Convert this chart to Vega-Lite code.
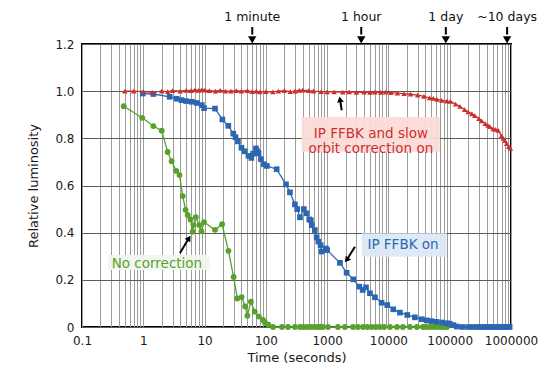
{
  "$schema": "https://vega.github.io/schema/vega-lite/v6.json",
  "width": 429,
  "height": 283,
  "autosize": {"type": "none"},
  "padding": {"left": 82, "top": 44, "right": 33, "bottom": 45},
  "background": "white",
  "config": {
    "font": "DejaVu Sans",
    "view": {"stroke": "black", "strokeWidth": 2},
    "axis": {"ticks": false, "domain": false, "labelColor": "#1a1a1a", "titleColor": "#1a1a1a", "labelFontSize": 12, "titleFontSize": 13, "titleFontWeight": "normal"}
  },
  "datasets": {
    "runs": [
      {"series": "No correction", "time": 0.48, "lum": 0.936},
      {"series": "No correction", "time": 0.96, "lum": 0.887},
      {"series": "No correction", "time": 1.46, "lum": 0.852},
      {"series": "No correction", "time": 2.0, "lum": 0.832},
      {"series": "No correction", "time": 2.5, "lum": 0.742},
      {"series": "No correction", "time": 2.9, "lum": 0.703},
      {"series": "No correction", "time": 3.45, "lum": 0.662},
      {"series": "No correction", "time": 3.9, "lum": 0.644},
      {"series": "No correction", "time": 4.4, "lum": 0.555},
      {"series": "No correction", "time": 4.9, "lum": 0.497},
      {"series": "No correction", "time": 5.3, "lum": 0.475},
      {"series": "No correction", "time": 5.9, "lum": 0.456},
      {"series": "No correction", "time": 6.4, "lum": 0.404},
      {"series": "No correction", "time": 6.6, "lum": 0.432},
      {"series": "No correction", "time": 7.2, "lum": 0.466},
      {"series": "No correction", "time": 8.2, "lum": 0.432},
      {"series": "No correction", "time": 8.9, "lum": 0.406},
      {"series": "No correction", "time": 9.8, "lum": 0.445},
      {"series": "No correction", "time": 14.8, "lum": 0.412},
      {"series": "No correction", "time": 19.3, "lum": 0.436},
      {"series": "No correction", "time": 24.5, "lum": 0.323},
      {"series": "No correction", "time": 29.8, "lum": 0.212},
      {"series": "No correction", "time": 34.2, "lum": 0.121},
      {"series": "No correction", "time": 40.3, "lum": 0.127},
      {"series": "No correction", "time": 46, "lum": 0.087},
      {"series": "No correction", "time": 50, "lum": 0.048},
      {"series": "No correction", "time": 57, "lum": 0.107},
      {"series": "No correction", "time": 66, "lum": 0.065},
      {"series": "No correction", "time": 77, "lum": 0.044},
      {"series": "No correction", "time": 90, "lum": 0.03},
      {"series": "No correction", "time": 97, "lum": 0.018},
      {"series": "No correction", "time": 110, "lum": 0.01},
      {"series": "No correction", "time": 131, "lum": 0},
      {"series": "No correction", "time": 183, "lum": 0},
      {"series": "No correction", "time": 230, "lum": 0},
      {"series": "No correction", "time": 298, "lum": 0},
      {"series": "No correction", "time": 360, "lum": 0},
      {"series": "No correction", "time": 410, "lum": 0},
      {"series": "No correction", "time": 470, "lum": 0},
      {"series": "No correction", "time": 540, "lum": 0},
      {"series": "No correction", "time": 620, "lum": 0},
      {"series": "No correction", "time": 700, "lum": 0},
      {"series": "No correction", "time": 780, "lum": 0},
      {"series": "No correction", "time": 850, "lum": 0},
      {"series": "No correction", "time": 1030, "lum": 0},
      {"series": "No correction", "time": 1500, "lum": 0},
      {"series": "No correction", "time": 1950, "lum": 0},
      {"series": "No correction", "time": 2640, "lum": 0},
      {"series": "No correction", "time": 3170, "lum": 0},
      {"series": "No correction", "time": 3840, "lum": 0},
      {"series": "No correction", "time": 4500, "lum": 0},
      {"series": "No correction", "time": 5300, "lum": 0},
      {"series": "No correction", "time": 6200, "lum": 0},
      {"series": "No correction", "time": 7200, "lum": 0},
      {"series": "No correction", "time": 8500, "lum": 0},
      {"series": "No correction", "time": 10600, "lum": 0},
      {"series": "No correction", "time": 13800, "lum": 0},
      {"series": "No correction", "time": 17200, "lum": 0},
      {"series": "No correction", "time": 22400, "lum": 0},
      {"series": "No correction", "time": 29200, "lum": 0},
      {"series": "No correction", "time": 36600, "lum": 0},
      {"series": "No correction", "time": 42000, "lum": 0},
      {"series": "No correction", "time": 48000, "lum": 0},
      {"series": "No correction", "time": 55000, "lum": 0},
      {"series": "No correction", "time": 63000, "lum": 0},
      {"series": "No correction", "time": 72000, "lum": 0},
      {"series": "No correction", "time": 80000, "lum": 0},
      {"series": "No correction", "time": 90000, "lum": 0},

      {"series": "IP FFBK on", "time": 0.98, "lum": 0.99},
      {"series": "IP FFBK on", "time": 1.46, "lum": 0.988},
      {"series": "IP FFBK on", "time": 2.7, "lum": 0.976},
      {"series": "IP FFBK on", "time": 3.5, "lum": 0.968},
      {"series": "IP FFBK on", "time": 4.2, "lum": 0.962},
      {"series": "IP FFBK on", "time": 5.0, "lum": 0.958},
      {"series": "IP FFBK on", "time": 6.2, "lum": 0.955},
      {"series": "IP FFBK on", "time": 7.5, "lum": 0.95},
      {"series": "IP FFBK on", "time": 9.0, "lum": 0.941},
      {"series": "IP FFBK on", "time": 9.8, "lum": 0.928},
      {"series": "IP FFBK on", "time": 14.8, "lum": 0.926},
      {"series": "IP FFBK on", "time": 19.5, "lum": 0.88},
      {"series": "IP FFBK on", "time": 24.4, "lum": 0.853},
      {"series": "IP FFBK on", "time": 29.4, "lum": 0.82},
      {"series": "IP FFBK on", "time": 32, "lum": 0.805},
      {"series": "IP FFBK on", "time": 35, "lum": 0.787},
      {"series": "IP FFBK on", "time": 40, "lum": 0.76},
      {"series": "IP FFBK on", "time": 45, "lum": 0.745},
      {"series": "IP FFBK on", "time": 52, "lum": 0.726},
      {"series": "IP FFBK on", "time": 58, "lum": 0.717},
      {"series": "IP FFBK on", "time": 62, "lum": 0.735},
      {"series": "IP FFBK on", "time": 69, "lum": 0.757},
      {"series": "IP FFBK on", "time": 72, "lum": 0.745},
      {"series": "IP FFBK on", "time": 76, "lum": 0.736},
      {"series": "IP FFBK on", "time": 83, "lum": 0.712},
      {"series": "IP FFBK on", "time": 93, "lum": 0.69},
      {"series": "IP FFBK on", "time": 104, "lum": 0.683},
      {"series": "IP FFBK on", "time": 150, "lum": 0.669},
      {"series": "IP FFBK on", "time": 213, "lum": 0.605},
      {"series": "IP FFBK on", "time": 247, "lum": 0.571},
      {"series": "IP FFBK on", "time": 298, "lum": 0.52},
      {"series": "IP FFBK on", "time": 325, "lum": 0.5},
      {"series": "IP FFBK on", "time": 360, "lum": 0.465},
      {"series": "IP FFBK on", "time": 417, "lum": 0.5},
      {"series": "IP FFBK on", "time": 462, "lum": 0.482},
      {"series": "IP FFBK on", "time": 510, "lum": 0.456},
      {"series": "IP FFBK on", "time": 540, "lum": 0.453},
      {"series": "IP FFBK on", "time": 560, "lum": 0.432},
      {"series": "IP FFBK on", "time": 630, "lum": 0.411},
      {"series": "IP FFBK on", "time": 675, "lum": 0.38},
      {"series": "IP FFBK on", "time": 720, "lum": 0.362},
      {"series": "IP FFBK on", "time": 783, "lum": 0.347},
      {"series": "IP FFBK on", "time": 810, "lum": 0.32},
      {"series": "IP FFBK on", "time": 955, "lum": 0.333},
      {"series": "IP FFBK on", "time": 1000, "lum": 0.326},
      {"series": "IP FFBK on", "time": 1620, "lum": 0.272},
      {"series": "IP FFBK on", "time": 2080, "lum": 0.23},
      {"series": "IP FFBK on", "time": 2670, "lum": 0.202},
      {"series": "IP FFBK on", "time": 3340, "lum": 0.171},
      {"series": "IP FFBK on", "time": 3800, "lum": 0.157},
      {"series": "IP FFBK on", "time": 4300, "lum": 0.168},
      {"series": "IP FFBK on", "time": 4990, "lum": 0.143},
      {"series": "IP FFBK on", "time": 6030, "lum": 0.126},
      {"series": "IP FFBK on", "time": 7740, "lum": 0.103},
      {"series": "IP FFBK on", "time": 9550, "lum": 0.093},
      {"series": "IP FFBK on", "time": 12000, "lum": 0.075},
      {"series": "IP FFBK on", "time": 15400, "lum": 0.061},
      {"series": "IP FFBK on", "time": 20300, "lum": 0.051},
      {"series": "IP FFBK on", "time": 27000, "lum": 0.041},
      {"series": "IP FFBK on", "time": 35000, "lum": 0.033},
      {"series": "IP FFBK on", "time": 42000, "lum": 0.028},
      {"series": "IP FFBK on", "time": 50000, "lum": 0.025},
      {"series": "IP FFBK on", "time": 61000, "lum": 0.022},
      {"series": "IP FFBK on", "time": 75000, "lum": 0.019},
      {"series": "IP FFBK on", "time": 89000, "lum": 0.016},
      {"series": "IP FFBK on", "time": 100000, "lum": 0.014},
      {"series": "IP FFBK on", "time": 115000, "lum": 0.008},
      {"series": "IP FFBK on", "time": 130000, "lum": 0.002},
      {"series": "IP FFBK on", "time": 160000, "lum": 0},
      {"series": "IP FFBK on", "time": 200000, "lum": 0},
      {"series": "IP FFBK on", "time": 240000, "lum": 0},
      {"series": "IP FFBK on", "time": 280000, "lum": 0},
      {"series": "IP FFBK on", "time": 320000, "lum": 0},
      {"series": "IP FFBK on", "time": 360000, "lum": 0},
      {"series": "IP FFBK on", "time": 400000, "lum": 0},
      {"series": "IP FFBK on", "time": 450000, "lum": 0},
      {"series": "IP FFBK on", "time": 500000, "lum": 0},
      {"series": "IP FFBK on", "time": 560000, "lum": 0},
      {"series": "IP FFBK on", "time": 630000, "lum": 0},
      {"series": "IP FFBK on", "time": 700000, "lum": 0},
      {"series": "IP FFBK on", "time": 780000, "lum": 0},
      {"series": "IP FFBK on", "time": 860000, "lum": 0},
      {"series": "IP FFBK on", "time": 950000, "lum": 0},

      {"series": "IP FFBK and slow orbit correction on", "time": 0.5, "lum": 1.0},
      {"series": "IP FFBK and slow orbit correction on", "time": 0.7, "lum": 1.0},
      {"series": "IP FFBK and slow orbit correction on", "time": 1.0, "lum": 0.998},
      {"series": "IP FFBK and slow orbit correction on", "time": 1.4, "lum": 0.995},
      {"series": "IP FFBK and slow orbit correction on", "time": 2.0, "lum": 1.0},
      {"series": "IP FFBK and slow orbit correction on", "time": 2.5, "lum": 0.998},
      {"series": "IP FFBK and slow orbit correction on", "time": 3.0, "lum": 1.002},
      {"series": "IP FFBK and slow orbit correction on", "time": 4.0, "lum": 1.0},
      {"series": "IP FFBK and slow orbit correction on", "time": 5.0, "lum": 1.003},
      {"series": "IP FFBK and slow orbit correction on", "time": 6.0, "lum": 1.002},
      {"series": "IP FFBK and slow orbit correction on", "time": 7.0, "lum": 1.005},
      {"series": "IP FFBK and slow orbit correction on", "time": 8.0, "lum": 1.003},
      {"series": "IP FFBK and slow orbit correction on", "time": 9.0, "lum": 1.006},
      {"series": "IP FFBK and slow orbit correction on", "time": 10, "lum": 1.004},
      {"series": "IP FFBK and slow orbit correction on", "time": 12, "lum": 1.002},
      {"series": "IP FFBK and slow orbit correction on", "time": 15, "lum": 1.0},
      {"series": "IP FFBK and slow orbit correction on", "time": 18, "lum": 1.003},
      {"series": "IP FFBK and slow orbit correction on", "time": 22, "lum": 1.0},
      {"series": "IP FFBK and slow orbit correction on", "time": 27, "lum": 1.0},
      {"series": "IP FFBK and slow orbit correction on", "time": 33, "lum": 1.002},
      {"series": "IP FFBK and slow orbit correction on", "time": 40, "lum": 1.0},
      {"series": "IP FFBK and slow orbit correction on", "time": 50, "lum": 1.002},
      {"series": "IP FFBK and slow orbit correction on", "time": 60, "lum": 0.998},
      {"series": "IP FFBK and slow orbit correction on", "time": 70, "lum": 1.0},
      {"series": "IP FFBK and slow orbit correction on", "time": 80, "lum": 0.997},
      {"series": "IP FFBK and slow orbit correction on", "time": 100, "lum": 0.998},
      {"series": "IP FFBK and slow orbit correction on", "time": 130, "lum": 0.997},
      {"series": "IP FFBK and slow orbit correction on", "time": 160, "lum": 1.0},
      {"series": "IP FFBK and slow orbit correction on", "time": 200, "lum": 1.002},
      {"series": "IP FFBK and slow orbit correction on", "time": 250, "lum": 0.998},
      {"series": "IP FFBK and slow orbit correction on", "time": 300, "lum": 1.0},
      {"series": "IP FFBK and slow orbit correction on", "time": 350, "lum": 1.003},
      {"series": "IP FFBK and slow orbit correction on", "time": 400, "lum": 1.004},
      {"series": "IP FFBK and slow orbit correction on", "time": 500, "lum": 1.002},
      {"series": "IP FFBK and slow orbit correction on", "time": 600, "lum": 1.0},
      {"series": "IP FFBK and slow orbit correction on", "time": 800, "lum": 0.998},
      {"series": "IP FFBK and slow orbit correction on", "time": 1000, "lum": 0.997},
      {"series": "IP FFBK and slow orbit correction on", "time": 1300, "lum": 0.997},
      {"series": "IP FFBK and slow orbit correction on", "time": 1800, "lum": 0.996},
      {"series": "IP FFBK and slow orbit correction on", "time": 2300, "lum": 0.997},
      {"series": "IP FFBK and slow orbit correction on", "time": 3000, "lum": 0.995},
      {"series": "IP FFBK and slow orbit correction on", "time": 4000, "lum": 0.996},
      {"series": "IP FFBK and slow orbit correction on", "time": 5000, "lum": 0.995},
      {"series": "IP FFBK and slow orbit correction on", "time": 6000, "lum": 0.996},
      {"series": "IP FFBK and slow orbit correction on", "time": 7500, "lum": 0.995},
      {"series": "IP FFBK and slow orbit correction on", "time": 9000, "lum": 0.996},
      {"series": "IP FFBK and slow orbit correction on", "time": 11000, "lum": 0.994},
      {"series": "IP FFBK and slow orbit correction on", "time": 14000, "lum": 0.992},
      {"series": "IP FFBK and slow orbit correction on", "time": 18000, "lum": 0.99},
      {"series": "IP FFBK and slow orbit correction on", "time": 23000, "lum": 0.987},
      {"series": "IP FFBK and slow orbit correction on", "time": 30000, "lum": 0.983},
      {"series": "IP FFBK and slow orbit correction on", "time": 38000, "lum": 0.978},
      {"series": "IP FFBK and slow orbit correction on", "time": 47000, "lum": 0.972},
      {"series": "IP FFBK and slow orbit correction on", "time": 54000, "lum": 0.969},
      {"series": "IP FFBK and slow orbit correction on", "time": 62000, "lum": 0.965},
      {"series": "IP FFBK and slow orbit correction on", "time": 74000, "lum": 0.961},
      {"series": "IP FFBK and slow orbit correction on", "time": 90000, "lum": 0.958},
      {"series": "IP FFBK and slow orbit correction on", "time": 103000, "lum": 0.957},
      {"series": "IP FFBK and slow orbit correction on", "time": 125000, "lum": 0.945},
      {"series": "IP FFBK and slow orbit correction on", "time": 147000, "lum": 0.935},
      {"series": "IP FFBK and slow orbit correction on", "time": 175000, "lum": 0.922},
      {"series": "IP FFBK and slow orbit correction on", "time": 200000, "lum": 0.912},
      {"series": "IP FFBK and slow orbit correction on", "time": 230000, "lum": 0.904},
      {"series": "IP FFBK and slow orbit correction on", "time": 257000, "lum": 0.896},
      {"series": "IP FFBK and slow orbit correction on", "time": 300000, "lum": 0.884},
      {"series": "IP FFBK and slow orbit correction on", "time": 331000, "lum": 0.874},
      {"series": "IP FFBK and slow orbit correction on", "time": 380000, "lum": 0.862},
      {"series": "IP FFBK and slow orbit correction on", "time": 420000, "lum": 0.855},
      {"series": "IP FFBK and slow orbit correction on", "time": 453000, "lum": 0.85},
      {"series": "IP FFBK and slow orbit correction on", "time": 510000, "lum": 0.84},
      {"series": "IP FFBK and slow orbit correction on", "time": 560000, "lum": 0.838},
      {"series": "IP FFBK and slow orbit correction on", "time": 620000, "lum": 0.834},
      {"series": "IP FFBK and slow orbit correction on", "time": 700000, "lum": 0.81},
      {"series": "IP FFBK and slow orbit correction on", "time": 750000, "lum": 0.8},
      {"series": "IP FFBK and slow orbit correction on", "time": 800000, "lum": 0.79},
      {"series": "IP FFBK and slow orbit correction on", "time": 850000, "lum": 0.778},
      {"series": "IP FFBK and slow orbit correction on", "time": 920000, "lum": 0.765},
      {"series": "IP FFBK and slow orbit correction on", "time": 980000, "lum": 0.757}
    ],
    "labels": [
      {"series": "No correction", "time": 1.67, "lum": 0.267, "text": "No correction", "t1": 0.265, "t2": 12.2, "v1": 0.242, "v2": 0.305},
      {"series": "IP FFBK on", "time": 17300, "lum": 0.347, "text": "IP FFBK on", "t1": 3660, "t2": 89000, "v1": 0.298, "v2": 0.398},
      {"series": "IP FFBK and slow orbit correction on", "time": 5180, "lum": 0.817, "text": "IP FFBK and slow\norbit correction on", "t1": 384, "t2": 69000, "v1": 0.743, "v2": 0.89}
    ],
    "pointers": [
      {"tail_t": 3.97, "tail_v": 0.314, "head_t": 5.57, "head_v": 0.377, "heading": 33},
      {"tail_t": 2840, "tail_v": 0.34, "head_t": 2080, "head_v": 0.284, "heading": 218},
      {"tail_t": 1730, "tail_v": 0.919, "head_t": 1620, "head_v": 0.965, "heading": 350}
    ],
    "milestones": [
      {"time": 60, "label": "1 minute"},
      {"time": 3600, "label": "1 hour"},
      {"time": 86400, "label": "1 day"},
      {"time": 864000, "label": "~10 days"}
    ]
  },
  "layer": [
    {
      "data": {"name": "labels"},
      "mark": {"type": "rect", "opacity": 0.95},
      "encoding": {
        "x": {
          "field": "t1", "type": "quantitative",
          "scale": {"type": "log", "domain": [0.1, 1000000], "nice": false},
          "axis": {
            "title": "Time (seconds)",
            "values": [0.1, 0.2, 0.3, 0.4, 0.5, 0.6, 0.7, 0.8, 0.9, 1, 2, 3, 4, 5, 6, 7, 8, 9, 10, 20, 30, 40, 50, 60, 70, 80, 90, 100, 200, 300, 400, 500, 600, 700, 800, 900, 1000, 2000, 3000, 4000, 5000, 6000, 7000, 8000, 9000, 10000, 20000, 30000, 40000, 50000, 60000, 70000, 80000, 90000, 100000, 200000, 300000, 400000, 500000, 600000, 700000, 800000, 900000, 1000000],
            "labelExpr": "abs(log(datum.value) / LN10 - round(log(datum.value) / LN10)) < 0.001 ? (datum.value < 1 ? '0.1' : format(datum.value, 'd')) : ''",
            "labelOverlap": false,
            "labelFlush": false,
            "labelPadding": 8,
            "titlePadding": 5,
            "grid": true,
            "gridColor": "#9c9c9c",
            "gridWidth": 1
          }
        },
        "x2": {"field": "t2"},
        "y": {
          "field": "v1", "type": "quantitative",
          "scale": {"domain": [0, 1.2], "nice": false},
          "axis": {
            "title": "Relative luminosity",
            "values": [0, 0.2, 0.4, 0.6, 0.8, 1.0, 1.2],
            "labelExpr": "datum.value == 0 ? '0' : format(datum.value, '.1f')",
            "labelPadding": 8,
            "titlePadding": 14,
            "grid": true,
            "gridColor": "#5c5c5c",
            "gridWidth": 1
          }
        },
        "y2": {"field": "v2"},
        "fill": {
          "field": "series", "type": "nominal",
          "scale": {"domain": ["No correction", "IP FFBK on", "IP FFBK and slow orbit correction on"], "range": ["#f1f7ee", "#dde9f7", "#fbdcd8"]},
          "legend": null
        }
      }
    },
    {
      "data": {"name": "runs"},
      "mark": {"type": "line", "strokeWidth": 1.3},
      "encoding": {
        "x": {"field": "time", "type": "quantitative"},
        "y": {"field": "lum", "type": "quantitative"},
        "color": {
          "field": "series", "type": "nominal",
          "scale": {"domain": ["No correction", "IP FFBK on", "IP FFBK and slow orbit correction on"], "range": ["#58a12c", "#2b66b0", "#cc2f2c"]},
          "legend": null
        },
        "detail": {"field": "series"}
      }
    },
    {
      "data": {"name": "runs"},
      "mark": {"type": "point", "filled": true, "opacity": 1},
      "encoding": {
        "x": {"field": "time", "type": "quantitative"},
        "y": {"field": "lum", "type": "quantitative"},
        "color": {"field": "series", "type": "nominal", "legend": null},
        "shape": {
          "field": "series", "type": "nominal",
          "scale": {"domain": ["No correction", "IP FFBK on", "IP FFBK and slow orbit correction on"], "range": ["circle", "square", "triangle-up"]},
          "legend": null
        },
        "size": {
          "field": "series", "type": "nominal",
          "scale": {"domain": ["No correction", "IP FFBK on", "IP FFBK and slow orbit correction on"], "range": [34, 30, 40]},
          "legend": null
        }
      }
    },
    {
      "data": {"name": "labels"},
      "mark": {"type": "text", "fontSize": 13.5, "align": "center", "baseline": "middle", "lineBreak": "\n", "lineHeight": 15},
      "encoding": {
        "x": {"field": "time", "type": "quantitative"},
        "y": {"field": "lum", "type": "quantitative"},
        "text": {"field": "text"},
        "color": {"field": "series", "type": "nominal", "legend": null}
      }
    },
    {
      "data": {"name": "pointers"},
      "mark": {"type": "rule", "color": "black", "strokeWidth": 2},
      "encoding": {
        "x": {"field": "tail_t", "type": "quantitative"},
        "y": {"field": "tail_v", "type": "quantitative"},
        "x2": {"field": "head_t"},
        "y2": {"field": "head_v"}
      }
    },
    {
      "data": {"name": "pointers"},
      "mark": {"type": "point", "shape": "triangle-up", "filled": true, "color": "black", "opacity": 1, "size": 45},
      "encoding": {
        "x": {"field": "head_t", "type": "quantitative"},
        "y": {"field": "head_v", "type": "quantitative"},
        "angle": {"field": "heading", "type": "quantitative", "scale": null}
      }
    },
    {
      "data": {"name": "milestones"},
      "mark": {"type": "rule", "color": "black", "strokeWidth": 2, "clip": false},
      "encoding": {
        "x": {"field": "time", "type": "quantitative"},
        "y": {"datum": 1.272},
        "y2": {"datum": 1.24}
      }
    },
    {
      "data": {"name": "milestones"},
      "mark": {"type": "point", "shape": "triangle-down", "filled": true, "color": "black", "opacity": 1, "size": 70, "clip": false},
      "encoding": {
        "x": {"field": "time", "type": "quantitative"},
        "y": {"datum": 1.218}
      }
    },
    {
      "data": {"name": "milestones"},
      "mark": {"type": "text", "fontSize": 12.5, "align": "center", "baseline": "middle", "color": "#111", "clip": false},
      "encoding": {
        "x": {"field": "time", "type": "quantitative"},
        "y": {"datum": 1.316},
        "text": {"field": "label"}
      }
    }
  ]
}
